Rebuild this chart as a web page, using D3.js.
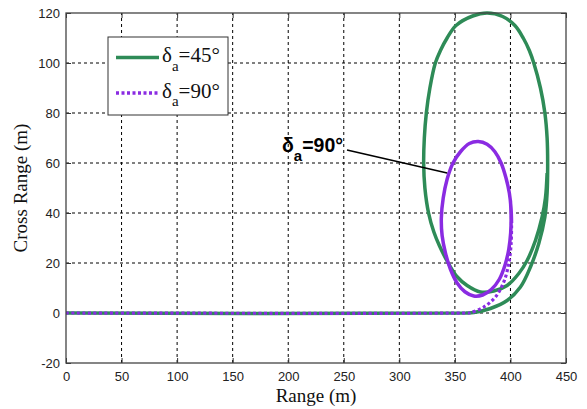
<!DOCTYPE html>
<html>
<head>
<meta charset="utf-8">
<script src="https://cdn.jsdelivr.net/npm/d3@7"></script>
<style>
  html, body { margin: 0; padding: 0; background: #fff; }
  svg { display: block; }
</style>
</head>
<body>
<svg id="chart" width="587" height="409"></svg>
<script>
// Axis ticks
const rangeTicks = [0, 50, 100, 150, 200, 250, 300, 350, 400, 450];
const crossTicks = [-20, 0, 20, 40, 60, 80, 100, 120];

// Trajectory for delta_a = 45 deg (range, cross range in m)
const range45 = [0, 360, 367, 382, 397, 409, 418, 425.5, 431, 433, 433.5, 433, 431, 427, 421, 417, 411.5, 404, 393, 379, 366, 351, 343, 337, 332.4, 327.5, 324.3, 322.5, 321.9, 323, 326.3, 331, 336, 344, 352, 361, 373, 385, 397, 407.5, 415, 422.5, 428.5, 431.5, 433];
const cross45 = [0, 0, 0.2, 1.8, 5, 10.4, 18.4, 27.8, 38.4, 48, 60, 70, 80, 90, 100, 105, 110, 115, 118.6, 120, 118.8, 115, 110, 105, 100, 90, 80, 70, 60, 50, 40, 32.5, 27, 20, 14.5, 11, 8.4, 8.8, 11, 15.8, 21, 29, 38.4, 46, 56];

// Trajectory for delta_a = 90 deg: run-in, then the loop
const range90In = [0, 360, 364, 376, 386.5, 394, 398.5, 400.6, 401];
const cross90In = [0, 0, 0.1, 2.4, 6.4, 12.4, 19.8, 27.8, 36];
const range90Loop = [401, 400.5, 399, 396, 391.6, 386, 379, 371, 363, 355, 348.3, 343, 339.5, 337.8, 338.5, 341.5, 346, 352, 359, 367, 375, 383, 390, 395, 398.5, 400.2, 400.6, 400];
const cross90Loop = [36, 42, 48, 54, 60, 64.5, 67.5, 68.6, 67.8, 64.5, 60, 53.5, 46, 38, 31, 24, 17.5, 12, 8.5, 6.8, 7.2, 9.5, 13.5, 19, 25.5, 32, 38, 45];

// Point on the 90 deg loop that the callout points to
const calloutRange = 343;
const calloutCross = 56;

const green = "#2e8b57";
const purple = "#8a2be2";

const svg = d3.select("#chart");
const margin = { left: 66, top: 13, right: 21, bottom: 46 };
const W = 587, H = 409;

const x = d3.scaleLinear().domain([0, 450]).range([margin.left, W - margin.right]);
const y = d3.scaleLinear().domain([-20, 120]).range([H - margin.bottom, margin.top]);

// Dashed grid
const grid = svg.append("g");
grid.selectAll("line.gx").data(rangeTicks.slice(1, -1)).enter().append("line")
  .attr("x1", d => x(d)).attr("x2", d => x(d))
  .attr("y1", y(-20)).attr("y2", y(120))
  .attr("stroke", "#000").attr("stroke-width", 1).attr("stroke-dasharray", "3,3");
grid.selectAll("line.gy").data(crossTicks.slice(1, -1)).enter().append("line")
  .attr("x1", x(0)).attr("x2", x(450))
  .attr("y1", d => y(d)).attr("y2", d => y(d))
  .attr("stroke", "#000").attr("stroke-width", 1).attr("stroke-dasharray", "3,3");

// Axes with inward ticks
const tickFont = "Liberation Sans, Arial, sans-serif";
const fmt = d => String(d);
const xAxis = svg.append("g").attr("transform", `translate(0,${y(-20)})`)
  .call(d3.axisBottom(x).tickValues(rangeTicks).tickSize(-5).tickPadding(9).tickFormat(fmt));
const yAxis = svg.append("g").attr("transform", `translate(${x(0)},0)`)
  .call(d3.axisLeft(y).tickValues(crossTicks).tickSize(-5).tickPadding(6).tickFormat(fmt));
[xAxis, yAxis].forEach(a => {
  a.select(".domain").remove();
  a.selectAll(".tick line").attr("stroke", "#333");
  a.selectAll(".tick text").attr("font-family", tickFont).attr("font-size", 13).attr("fill", "#222");
});

// Ticks on top and right edges
svg.append("g").attr("transform", `translate(0,${y(120)})`)
  .call(d3.axisTop(x).tickValues(rangeTicks).tickSize(-5).tickFormat(""))
  .call(g => { g.select(".domain").remove(); g.selectAll(".tick line").attr("stroke", "#333"); });
svg.append("g").attr("transform", `translate(${x(450)},0)`)
  .call(d3.axisRight(y).tickValues(crossTicks).tickSize(-5).tickFormat(""))
  .call(g => { g.select(".domain").remove(); g.selectAll(".tick line").attr("stroke", "#333"); });

// Curves
const toPts = (xs, ys) => xs.map((v, i) => [v, ys[i]]);
const line = d3.line().x(d => x(d[0])).y(d => y(d[1])).curve(d3.curveCatmullRom.alpha(0.5));

const plot = svg.append("g");
plot.append("path").attr("d", line(toPts(range45, cross45)))
  .attr("fill", "none").attr("stroke", green).attr("stroke-width", 3.5).attr("stroke-linejoin", "round");
plot.append("path").attr("d", line(toPts(range90In, cross90In)))
  .attr("fill", "none").attr("stroke", purple).attr("stroke-width", 3.2).attr("stroke-dasharray", "3,2.5");
plot.append("path").attr("d", line(toPts(range90Loop, cross90Loop)))
  .attr("fill", "none").attr("stroke", purple).attr("stroke-width", 3.5).attr("stroke-linejoin", "round");

// Frame
svg.append("rect")
  .attr("x", x(0)).attr("y", y(120))
  .attr("width", x(450) - x(0)).attr("height", y(-20) - y(120))
  .attr("fill", "none").attr("stroke", "#444").attr("stroke-width", 1.3);

// Axis titles
const serif = "Liberation Serif, 'Times New Roman', serif";
svg.append("text")
  .attr("x", (x(0) + x(450)) / 2).attr("y", 402)
  .attr("text-anchor", "middle").attr("font-family", serif).attr("font-size", 19).attr("fill", "#111")
  .text("Range (m)");
svg.append("text")
  .attr("transform", `translate(27,${(y(-20) + y(120)) / 2}) rotate(-90)`)
  .attr("text-anchor", "middle").attr("font-family", serif).attr("font-size", 19).attr("fill", "#111")
  .text("Cross Range (m)");

// Legend
const legend = svg.append("g");
legend.append("rect").attr("x", 108).attr("y", 37).attr("width", 120).attr("height", 78)
  .attr("fill", "#fff").attr("stroke", "#333").attr("stroke-width", 1);
const legendItems = [
  { label: "45°", color: green, dash: null, y: 57.5 },
  { label: "90°", color: purple, dash: "3,2.5", y: 93 }
];
legendItems.forEach(it => {
  legend.append("line").attr("x1", 116).attr("x2", 159).attr("y1", it.y).attr("y2", it.y)
    .attr("stroke", it.color).attr("stroke-width", 3.5).attr("stroke-dasharray", it.dash);
  const t = legend.append("text").attr("x", 162).attr("y", it.y + 4.5)
    .attr("font-family", serif).attr("font-size", 21).attr("fill", "#111");
  t.append("tspan").text("δ");
  t.append("tspan").attr("dy", 8.5).attr("font-size", 15).text("a");
  t.append("tspan").attr("dy", -8.5).text("=" + it.label);
});

// Callout for the 90 deg loop
const ann = svg.append("g");
ann.append("line")
  .attr("x1", 347).attr("y1", 150)
  .attr("x2", x(calloutRange)).attr("y2", y(calloutCross))
  .attr("stroke", "#000").attr("stroke-width", 1.6);
const at = ann.append("text").attr("x", 282).attr("y", 152)
  .attr("font-family", "Liberation Sans, Arial, sans-serif").attr("font-weight", "bold")
  .attr("font-size", 19.5).attr("fill", "#000");
at.append("tspan").text("δ");
at.append("tspan").attr("dy", 9).attr("font-size", 15).text("a");
at.append("tspan").attr("dy", -9).text("=90°");
</script>
</body>
</html>
